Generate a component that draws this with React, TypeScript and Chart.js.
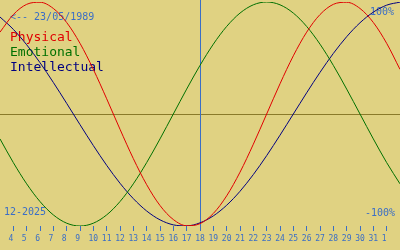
import React, { useEffect, useRef } from "react";
import { Chart, registerables } from "chart.js";

Chart.register(...registerables);

// Day positions in the view (3 = Dec 3, 33 = Jan 2)
const dayIndex = [3, 4, 5, 6, 7, 8, 9, 10, 11, 12, 13, 14, 15, 16, 17, 18, 19, 20, 21, 22, 23, 24, 25, 26, 27, 28, 29, 30, 31, 32, 33];

const physical = [0.7308, 0.8879, 0.9791, 0.9977, 0.9423, 0.817, 0.6311, 0.3984, 0.1362, -0.1362, -0.3984, -0.6311, -0.817, -0.9423, -0.9977, -0.9791, -0.8879, -0.7308, -0.5196, -0.2698, 0, 0.2698, 0.5196, 0.7308, 0.8879, 0.9791, 0.9977, 0.9423, 0.817, 0.6311, 0.3984];

const emotional = [-0.2225, -0.4339, -0.6235, -0.7818, -0.901, -0.9749, -1, -0.9749, -0.901, -0.7818, -0.6235, -0.4339, -0.2225, 0, 0.2225, 0.4339, 0.6235, 0.7818, 0.901, 0.9749, 1, 0.9749, 0.901, 0.7818, 0.6235, 0.4339, 0.2225, 0, -0.2225, -0.4339, -0.6235];

const intellectual = [0.866, 0.7557, 0.6182, 0.4582, 0.2817, 0.0951, -0.0951, -0.2817, -0.4582, -0.6182, -0.7557, -0.866, -0.945, -0.9898, -0.9989, -0.9718, -0.9096, -0.8146, -0.6901, -0.5406, -0.3717, -0.1893, 0, 0.1893, 0.3717, 0.5406, 0.6901, 0.8146, 0.9096, 0.9718, 0.9989];

const tickValues = [4, 5, 6, 7, 8, 9, 10, 11, 12, 13, 14, 15, 16, 17, 18, 19, 20, 21, 22, 23, 24, 25, 26, 27, 28, 29, 30, 31, 32];
const tickLabels = ["4", "5", "6", "7", "8", "9", "10", "11", "12", "13", "14", "15", "16", "17", "18", "19", "20", "21", "22", "23", "24", "25", "26", "27", "28", "29", "30", "31", "1"];

const seriesNames = ["Physical", "Emotional", "Intellectual"];
const seriesColors = ["#e00000", "#007000", "#000080"];
const birthLabel = "<-- 23/05/1989";
const monthLabel = "12-2025";
const topLabel = "100%";
const bottomLabel = "-100%";
const todayValue = 18;

const BG = "#e0d282";
const BLUE = "#3a6ec6";
const MONO = "'DejaVu Sans Mono', monospace";

export default function App() {
  const ref = useRef<HTMLCanvasElement | null>(null);

  useEffect(() => {
    document.body.style.margin = "0";
    const canvas = ref.current;
    if (!canvas) return;

    const overlay = {
      id: "overlay",
      beforeDatasetsDraw(chart: any) {
        const { ctx, chartArea, scales } = chart;
        const x = scales.x;
        const y = scales.y;
        ctx.save();
        // zero line
        const y0 = Math.round(y.getPixelForValue(0)) + 0.5;
        ctx.strokeStyle = "#8a7a2a";
        ctx.lineWidth = 1;
        ctx.beginPath();
        ctx.moveTo(chartArea.left, y0);
        ctx.lineTo(chartArea.right, y0);
        ctx.stroke();
        // today line
        const xt = Math.round(x.getPixelForValue(todayValue)) + 0.5;
        ctx.strokeStyle = BLUE;
        ctx.beginPath();
        ctx.moveTo(xt, chartArea.top - 2);
        ctx.lineTo(xt, chartArea.bottom);
        ctx.stroke();
        // texts
        ctx.textBaseline = "middle";
        ctx.textAlign = "left";
        ctx.font = `10px ${MONO}`;
        ctx.fillStyle = BLUE;
        ctx.fillText(birthLabel, 10, 17);
        ctx.fillText(monthLabel, 4, 212);
        ctx.textAlign = "right";
        ctx.fillText(topLabel, 394, 12);
        ctx.fillText(bottomLabel, 395, 213);
        ctx.textAlign = "left";
        ctx.font = `13px ${MONO}`;
        seriesNames.forEach((n, i) => {
          ctx.fillStyle = seriesColors[i];
          ctx.fillText(n, 10, 38 + i * 15);
        });
        ctx.restore();
      },
    };

    const mk = (vals: number[], i: number) => ({
      label: seriesNames[i],
      data: dayIndex.map((d, k) => ({ x: d, y: vals[k] })),
      borderColor: seriesColors[i],
      borderWidth: 1,
      pointRadius: 0,
      fill: false,
      cubicInterpolationMode: "monotone" as const,
    });

    const chart = new Chart(canvas, {
      type: "line",
      data: {
        datasets: [mk(physical, 0), mk(emotional, 1), mk(intellectual, 2)],
      },
      options: {
        animation: false,
        responsive: false,
        maintainAspectRatio: false,
        layout: { padding: { top: 2, left: 0, right: 0, bottom: 0 } },
        plugins: { legend: { display: false }, tooltip: { enabled: false }, title: { display: false } },
        scales: {
          x: {
            type: "linear",
            min: 3,
            max: 33,
            afterBuildTicks: (scale: any) => {
              scale.ticks = tickValues.map((v) => ({ value: v }));
            },
            afterFit: (scale: any) => {
              scale.height = 24;
            },
            border: { display: false },
            grid: {
              display: true,
              drawOnChartArea: false,
              drawTicks: true,
              tickLength: 5,
              tickColor: BLUE,
              color: BLUE,
            },
            ticks: {
              autoSkip: false,
              maxRotation: 0,
              minRotation: 0,
              padding: 3,
              color: BLUE,
              font: { family: MONO, size: 8 },
              callback: (v: any) => {
                const i = tickValues.indexOf(Number(v));
                const s = i >= 0 ? tickLabels[i] : "";
                return s.length === 1 ? s + " " : s;
              },
            },
          },
          y: {
            display: false,
            min: -1,
            max: 1,
          },
        },
      },
      plugins: [overlay],
    });

    return () => chart.destroy();
  }, []);

  return (
    <div style={{ width: 400, height: 250, background: BG }}>
      <canvas ref={ref} width={400} height={250} style={{ display: "block" }} />
    </div>
  );
}
